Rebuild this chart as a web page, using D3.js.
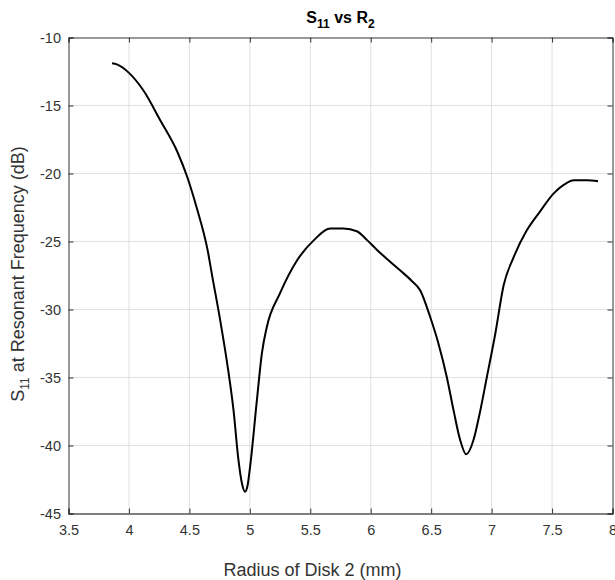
<!DOCTYPE html>
<html>
<head>
<meta charset="utf-8">
<script src="https://cdn.jsdelivr.net/npm/d3@7"></script>
<style>
  body { margin: 0; background: #fff; }
  svg { font-family: "Liberation Sans", Arial, sans-serif; }
</style>
</head>
<body>
<svg id="chart" width="615" height="580"></svg>
<script>
// radius of disk 2 (mm) and S11 (dB)
const radius = [3.86, 3.90, 4.00, 4.12, 4.26, 4.40, 4.48, 4.56, 4.65, 4.69,
  4.755, 4.82, 4.865, 4.905, 4.935, 4.96, 4.98, 5.003, 5.058, 5.10,
  5.14, 5.25, 5.39, 5.53, 5.665, 5.775, 5.885, 5.97, 6.05, 6.13,
  6.24, 6.34, 6.41, 6.49, 6.56, 6.63, 6.685, 6.74, 6.79, 6.85,
  6.90, 6.96, 7.03, 7.10, 7.18, 7.29, 7.40, 7.51, 7.62, 7.68, 7.79, 7.88];
const s11 = [-11.9, -11.98, -12.6, -13.9, -16.1, -18.4, -20.2, -22.5, -25.6, -27.6,
  -30.8, -34.4, -37.4, -41.0, -42.8, -43.4, -43.0, -41.5, -36.7, -33.2,
  -31.3, -28.8, -26.4, -24.9, -24.05, -24.05, -24.25, -24.9, -25.6, -26.25,
  -27.1, -27.9, -28.6, -30.5, -32.5, -35.0, -37.4, -39.6, -40.65, -39.6,
  -37.7, -35.0, -31.8, -28.2, -26.2, -24.2, -22.8, -21.5, -20.7, -20.5, -20.5, -20.57];
const xTicks = [3.5, 4, 4.5, 5, 5.5, 6, 6.5, 7, 7.5, 8];
const yTicks = [-45, -40, -35, -30, -25, -20, -15, -10];

const svg = d3.select("#chart");
const mLeft = 68.5, mRight = 612.5, mTop = 37.5, mBottom = 513.5;

const x = d3.scaleLinear().domain([3.5, 8]).range([mLeft, mRight]);
const y = d3.scaleLinear().domain([-45, -10]).range([mBottom, mTop]);

// grid
svg.append("g").selectAll("line").data(xTicks.slice(1, -1)).enter().append("line")
  .attr("x1", d => x(d)).attr("x2", d => x(d))
  .attr("y1", mTop).attr("y2", mBottom)
  .attr("stroke", "#dfdfdf").attr("stroke-width", 1);
svg.append("g").selectAll("line").data(yTicks.slice(1, -1)).enter().append("line")
  .attr("x1", mLeft).attr("x2", mRight)
  .attr("y1", d => y(d)).attr("y2", d => y(d))
  .attr("stroke", "#dfdfdf").attr("stroke-width", 1);

// axes, MATLAB style ticks inside, plain hyphen minus
const fmt = d => String(d);
const xAxis = svg.append("g").attr("transform", `translate(0,${mBottom})`)
  .call(d3.axisBottom(x).tickValues(xTicks).tickSize(-5).tickPadding(11).tickFormat(fmt));
const xTop = svg.append("g").attr("transform", `translate(0,${mTop})`)
  .call(d3.axisTop(x).tickValues(xTicks).tickSize(-5).tickFormat(""));
const yAxis = svg.append("g").attr("transform", `translate(${mLeft},0)`)
  .call(d3.axisLeft(y).tickValues(yTicks).tickSize(-5).tickPadding(7.5).tickFormat(fmt));
const yRight = svg.append("g").attr("transform", `translate(${mRight},0)`)
  .call(d3.axisRight(y).tickValues(yTicks).tickSize(-5).tickFormat(""));

[xAxis, xTop, yAxis, yRight].forEach(a => {
  a.select(".domain").attr("stroke", "#333").attr("stroke-width", 1);
  a.selectAll(".tick line").attr("stroke", "#333");
  a.selectAll("text").attr("fill", "#333").attr("font-size", 14.5)
    .attr("font-family", "Liberation Sans, Arial, sans-serif");
});
xAxis.select(".domain").attr("stroke-width", 1.5).attr("stroke", "#555");

// curve
const pts = radius.map((r, i) => [r, s11[i]]);
svg.append("path")
  .datum(pts)
  .attr("fill", "none")
  .attr("stroke", "#000")
  .attr("stroke-width", 2)
  .attr("d", d3.line().x(d => x(d[0])).y(d => y(d[1])).curve(d3.curveMonotoneX));

// title
const title = svg.append("text")
  .attr("x", (mLeft + mRight) / 2).attr("y", 23)
  .attr("text-anchor", "middle")
  .attr("font-size", 16).attr("font-weight", "bold").attr("fill", "#000");
title.append("tspan").text("S");
title.append("tspan").attr("font-size", 12).attr("dy", 5).text("11");
title.append("tspan").attr("dy", -5).text(" vs R");
title.append("tspan").attr("font-size", 12).attr("dy", 5).text("2");

// x label
svg.append("text")
  .attr("x", (mLeft + mRight) / 2 - 28).attr("y", 576)
  .attr("text-anchor", "middle")
  .attr("font-size", 18).attr("fill", "#333")
  .text("Radius of Disk 2 (mm)");

// y label
const yl = svg.append("text")
  .attr("transform", `translate(24,274) rotate(-90)`)
  .attr("text-anchor", "middle")
  .attr("font-size", 18).attr("fill", "#333");
yl.append("tspan").text("S");
yl.append("tspan").attr("font-size", 12).attr("dy", 5).text("11");
yl.append("tspan").attr("dy", -5).text(" at Resonant Frequency (dB)");
</script>
</body>
</html>
